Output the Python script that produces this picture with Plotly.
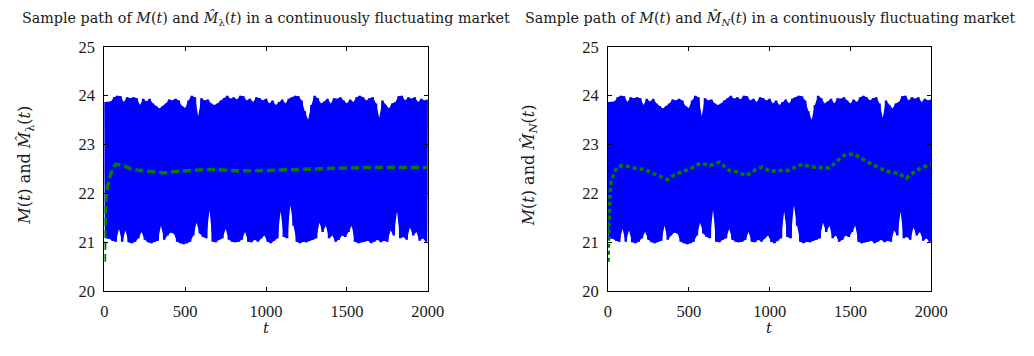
import plotly.graph_objects as go

# ---- data ----
# M(t): dense fluctuating path, given as alternating peaks (t = 0, 20, ..., 2000)
# and troughs (t = 10, 30, ..., 1990)
M_peaks = [23.87, 23.87, 23.88, 23.97, 24.00, 23.99, 23.87, 23.97, 23.95, 23.97,
           23.95, 23.81, 23.94, 23.88, 23.94, 23.84, 23.79, 23.74, 23.79, 23.84,
           23.92, 23.90, 23.94, 23.90, 23.79, 23.75, 23.90, 24.00, 23.97, 23.58,
           23.95, 23.90, 23.92, 23.84, 23.81, 23.84, 23.90, 23.95, 24.00, 23.94,
           23.97, 23.92, 24.00, 23.99, 23.90, 23.94, 23.87, 23.97, 23.95, 23.90,
           23.94, 23.84, 23.90, 23.81, 23.87, 23.92, 23.84, 23.94, 23.97, 24.00,
           23.99, 23.90, 23.68, 23.51, 23.81, 24.00, 23.95, 23.84, 23.88, 23.94,
           23.84, 23.95, 23.94, 23.97, 23.90, 23.84, 23.92, 23.87, 23.97, 24.00,
           23.97, 23.90, 23.95, 23.97, 23.84, 23.55, 23.90, 23.81, 23.74, 23.84,
           23.87, 23.99, 24.00, 23.90, 23.97, 23.94, 23.97, 23.87, 23.94, 23.90,
           23.92]
M_troughs = [21.08, 21.07, 21.03, 21.01, 21.27, 21.01, 21.24, 21.00, 20.98, 21.01,
             21.08, 21.21, 21.05, 21.00, 20.98, 21.01, 21.03, 21.34, 21.05, 21.14,
             21.20, 21.18, 21.01, 20.98, 20.96, 20.98, 21.01, 21.14, 21.40, 21.18,
             21.11, 21.08, 21.66, 21.01, 21.00, 21.05, 21.08, 21.27, 21.05, 21.01,
             21.00, 21.01, 21.05, 21.21, 21.01, 21.00, 21.05, 21.01, 21.08, 21.14,
             21.01, 20.98, 21.03, 21.08, 21.63, 21.11, 21.08, 21.76, 21.34, 21.01,
             20.98, 21.01, 21.00, 21.03, 21.05, 21.08, 21.40, 21.21, 21.34, 21.08,
             21.14, 21.01, 21.05, 21.14, 21.11, 21.21, 21.34, 21.01, 20.98, 21.00,
             21.01, 21.03, 20.98, 21.01, 21.05, 21.00, 21.03, 21.01, 21.24, 21.14,
             21.63, 21.08, 21.11, 21.05, 21.30, 21.14, 21.21, 21.03, 21.08, 21.01]

# estimate with lambda (left panel)
t_lam = [0, 3, 6, 12, 20, 35, 50, 70, 100, 125, 150, 200, 250, 300, 370, 450, 530,
         630, 730, 830, 1000, 1200, 1440, 1600, 1800, 2000]
M_lam = [20.60, 21.30, 21.70, 21.95, 22.15, 22.35, 22.50, 22.60, 22.58, 22.56, 22.52,
         22.48, 22.46, 22.44, 22.42, 22.45, 22.47, 22.49, 22.48, 22.46, 22.47, 22.49,
         22.52, 22.53, 22.53, 22.53]

# estimate with N (right panel)
t_N = [0, 3, 6, 12, 20, 45, 65, 115, 175, 225, 280, 330, 370, 410, 470, 520, 570,
       630, 690, 750, 800, 855, 915, 955, 1005, 1055, 1115, 1205, 1255, 1320, 1370,
       1420, 1460, 1520, 1570, 1620, 1680, 1740, 1800, 1845, 1895, 1945, 2000]
M_N = [20.60, 21.20, 21.60, 21.95, 22.25, 22.47, 22.56, 22.56, 22.51, 22.49, 22.41,
       22.34, 22.28, 22.38, 22.45, 22.52, 22.62, 22.57, 22.64, 22.47, 22.44, 22.36,
       22.49, 22.54, 22.45, 22.47, 22.47, 22.60, 22.54, 22.52, 22.52, 22.67, 22.78,
       22.81, 22.71, 22.62, 22.52, 22.44, 22.41, 22.31, 22.44, 22.54, 22.58]

x_ticks = [0, 500, 1000, 1500, 2000]
y_ticks = [20, 21, 22, 23, 24, 25]

titles = ["Sample path of <i>M</i>(<i>t</i>) and <i>M\u0302</i><sub>λ</sub>(<i>t</i>) in a continuously fluctuating market",
          "Sample path of <i>M</i>(<i>t</i>) and <i>M\u0302</i><sub><i>N</i></sub>(<i>t</i>) in a continuously fluctuating market"]
ylabels = ["<i>M</i>(<i>t</i>) and <i>M\u0302</i><sub>λ</sub>(<i>t</i>)",
           "<i>M</i>(<i>t</i>) and <i>M\u0302</i><sub><i>N</i></sub>(<i>t</i>)"]
xlabel = "<i>t</i>"

# ---- build M(t) path by interleaving peaks and troughs ----
t_M, M = [], []
for i, p in enumerate(M_peaks):
    t_M.append(20 * i)
    M.append(p)
    if i < len(M_troughs):
        t_M.append(20 * i + 10)
        M.append(M_troughs[i])
t_pk = [20 * i for i in range(len(M_peaks))]
t_tr = [20 * i + 10 for i in range(len(M_troughs))]

TFONT = "DejaVu Serif"
NFONT = "Liberation Serif"
TXT = "#1a1a1a"
BLUE = "#0000ff"
GREEN = "#008000"

fig = go.Figure()
for k, (tt, mm, dash) in enumerate([(t_lam, M_lam, "8px,4px"), (t_N, M_N, "4px,3px")]):
    xa = "x" if k == 0 else "x2"
    ya = "y" if k == 0 else "y2"
    # solid core of the band (between troughs and peaks)
    fig.add_trace(go.Scatter(x=t_tr, y=M_troughs, mode="lines", xaxis=xa, yaxis=ya,
                             line=dict(color=BLUE, width=0), showlegend=False,
                             hoverinfo="skip"))
    fig.add_trace(go.Scatter(x=t_pk, y=M_peaks, mode="lines", xaxis=xa, yaxis=ya,
                             line=dict(color=BLUE, width=0), fill="tonexty",
                             fillcolor=BLUE, showlegend=False, hoverinfo="skip"))
    # the path itself
    fig.add_trace(go.Scatter(x=t_M, y=M, mode="lines", xaxis=xa, yaxis=ya,
                             line=dict(color=BLUE, width=2.5), showlegend=False,
                             hoverinfo="skip"))
    fig.add_trace(go.Scatter(x=tt, y=mm, mode="lines", xaxis=xa, yaxis=ya,
                             line=dict(color=GREEN, width=3.5, dash=dash),
                             showlegend=False, hoverinfo="skip"))

W, H = 1034, 356
xdom = [[102.5 / W, 432.5 / W], [616.5 / W, 946.5 / W]]
ydom = [(H - 298) / H, (H - 40) / H]

axis_common = dict(showline=True, linecolor="black", linewidth=1, mirror="ticks",
                   ticks="inside", ticklen=4, tickcolor="black", showgrid=False,
                   zeroline=False, tickfont=dict(family=NFONT, size=16.5, color=TXT))

layout = dict(width=W, height=H, margin=dict(l=0, r=0, t=0, b=0),
              paper_bgcolor="white", plot_bgcolor="white", showlegend=False)
for k in range(2):
    sx = "" if k == 0 else "2"
    layout["xaxis" + sx] = dict(axis_common, domain=xdom[k], range=[0, 2000],
                                tickvals=x_ticks, ticklabelstandoff=5,
                                anchor="y" + sx)
    layout["yaxis" + sx] = dict(axis_common, domain=ydom, range=[20, 25],
                                tickvals=y_ticks, ticklabelstandoff=5,
                                anchor="x" + sx)
fig.update_layout(**layout)

ann = []
for k in range(2):
    cx = (xdom[k][0] + xdom[k][1]) / 2
    ann.append(dict(text=titles[k], x=cx, y=1 - 10 / H, xref="paper", yref="paper",
                    showarrow=False, xanchor="center", yanchor="middle",
                    font=dict(family=TFONT, size=14.3, color=TXT)))
    ann.append(dict(text=xlabel, x=cx, y=1 - 337 / H, xref="paper", yref="paper",
                    showarrow=False, xanchor="center", yanchor="middle",
                    font=dict(family=TFONT, size=15, color=TXT)))
    ax = (22 if k == 0 else 536) / W
    ann.append(dict(text=ylabels[k], x=ax, y=(ydom[0] + ydom[1]) / 2 + 4 / H,
                    xref="paper", yref="paper", showarrow=False, textangle=-90,
                    xanchor="center", yanchor="middle",
                    font=dict(family=TFONT, size=16, color=TXT)))
fig.update_layout(annotations=ann)

fig.write_html("out.html")
